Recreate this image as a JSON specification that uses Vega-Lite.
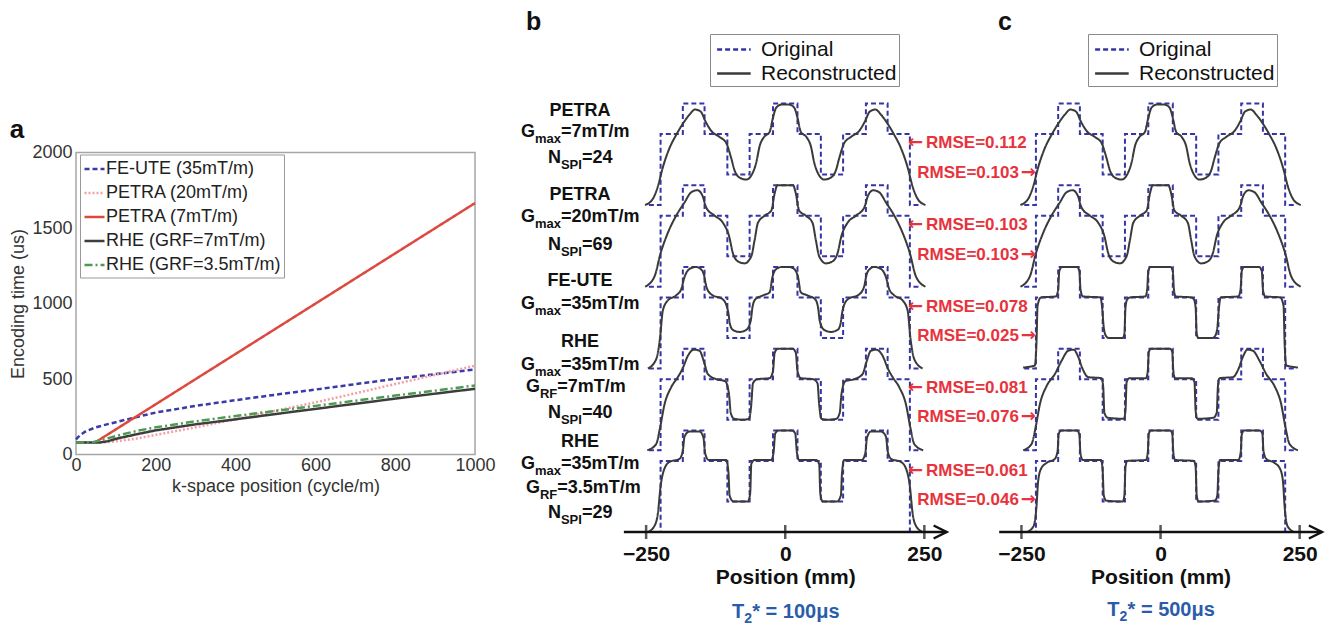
{
"$schema": "https://vega.github.io/schema/vega-lite/v6.json",
"background": "white",
"padding": {"left": 9, "top": 10, "right": 0, "bottom": 0},
"config": {"view": {"stroke": null}, "font": "Liberation Sans"},
"datasets": {
"enc": [
{"s":"FE-UTE (35mT/m)","k":0,"t":100},{"s":"FE-UTE (35mT/m)","k":10,"t":128},{"s":"FE-UTE (35mT/m)","k":25,"t":155},{"s":"FE-UTE (35mT/m)","k":50,"t":180},{"s":"FE-UTE (35mT/m)","k":75,"t":198},{"s":"FE-UTE (35mT/m)","k":100,"t":214},{"s":"FE-UTE (35mT/m)","k":150,"t":247},{"s":"FE-UTE (35mT/m)","k":200,"t":278},{"s":"FE-UTE (35mT/m)","k":300,"t":322},{"s":"FE-UTE (35mT/m)","k":400,"t":360},{"s":"FE-UTE (35mT/m)","k":500,"t":396},{"s":"FE-UTE (35mT/m)","k":600,"t":430},{"s":"FE-UTE (35mT/m)","k":700,"t":466},{"s":"FE-UTE (35mT/m)","k":800,"t":501},{"s":"FE-UTE (35mT/m)","k":900,"t":532},{"s":"FE-UTE (35mT/m)","k":1000,"t":563},
{"s":"PETRA (20mT/m)","k":0,"t":80},{"s":"PETRA (20mT/m)","k":50,"t":80},{"s":"PETRA (20mT/m)","k":80,"t":82},{"s":"PETRA (20mT/m)","k":100,"t":88},{"s":"PETRA (20mT/m)","k":150,"t":105},{"s":"PETRA (20mT/m)","k":200,"t":130},{"s":"PETRA (20mT/m)","k":300,"t":180},{"s":"PETRA (20mT/m)","k":400,"t":234},{"s":"PETRA (20mT/m)","k":500,"t":290},{"s":"PETRA (20mT/m)","k":600,"t":345},{"s":"PETRA (20mT/m)","k":700,"t":405},{"s":"PETRA (20mT/m)","k":800,"t":467},{"s":"PETRA (20mT/m)","k":900,"t":527},{"s":"PETRA (20mT/m)","k":1000,"t":588},
{"s":"PETRA (7mT/m)","k":48,"t":80},{"s":"PETRA (7mT/m)","k":1000,"t":1665},
{"s":"RHE (GRF=7mT/m)","k":0,"t":80},{"s":"RHE (GRF=7mT/m)","k":60,"t":80},{"s":"RHE (GRF=7mT/m)","k":80,"t":88},{"s":"RHE (GRF=7mT/m)","k":100,"t":104},{"s":"RHE (GRF=7mT/m)","k":150,"t":133},{"s":"RHE (GRF=7mT/m)","k":200,"t":160},{"s":"RHE (GRF=7mT/m)","k":300,"t":200},{"s":"RHE (GRF=7mT/m)","k":400,"t":233},{"s":"RHE (GRF=7mT/m)","k":500,"t":268},{"s":"RHE (GRF=7mT/m)","k":600,"t":302},{"s":"RHE (GRF=7mT/m)","k":700,"t":336},{"s":"RHE (GRF=7mT/m)","k":800,"t":370},{"s":"RHE (GRF=7mT/m)","k":900,"t":403},{"s":"RHE (GRF=7mT/m)","k":1000,"t":435},
{"s":"RHE (GRF=3.5mT/m)","k":0,"t":80},{"s":"RHE (GRF=3.5mT/m)","k":40,"t":80},{"s":"RHE (GRF=3.5mT/m)","k":70,"t":100},{"s":"RHE (GRF=3.5mT/m)","k":100,"t":122},{"s":"RHE (GRF=3.5mT/m)","k":150,"t":155},{"s":"RHE (GRF=3.5mT/m)","k":200,"t":180},{"s":"RHE (GRF=3.5mT/m)","k":300,"t":220},{"s":"RHE (GRF=3.5mT/m)","k":400,"t":255},{"s":"RHE (GRF=3.5mT/m)","k":500,"t":289},{"s":"RHE (GRF=3.5mT/m)","k":600,"t":322},{"s":"RHE (GRF=3.5mT/m)","k":700,"t":356},{"s":"RHE (GRF=3.5mT/m)","k":800,"t":390},{"s":"RHE (GRF=3.5mT/m)","k":900,"t":423},{"s":"RHE (GRF=3.5mT/m)","k":1000,"t":457}
],
"orig": [{"x":-245,"v":0},{"x":-224,"v":0.7},{"x":-184,"v":1},{"x":-145,"v":0.7},{"x":-104,"v":0.3},{"x":-64,"v":0.7},{"x":-22,"v":1},{"x":22,"v":0.7},{"x":64,"v":0.3},{"x":104,"v":0.7},{"x":145,"v":1},{"x":184,"v":0.7},{"x":224,"v":0},{"x":245,"v":0}],
"r1": [{"x":-252,"v":0},{"x":-238,"v":0.06},{"x":-229,"v":0.18},{"x":-220,"v":0.37},{"x":-208,"v":0.56},{"x":-196,"v":0.69},{"x":-184,"v":0.8},{"x":-172,"v":0.89},{"x":-162,"v":0.94},{"x":-152,"v":0.92},{"x":-143,"v":0.82},{"x":-133,"v":0.73},{"x":-118,"v":0.67},{"x":-106,"v":0.61},{"x":-97,"v":0.46},{"x":-91,"v":0.34},{"x":-82,"v":0.27},{"x":-70,"v":0.25},{"x":-60,"v":0.3},{"x":-52,"v":0.42},{"x":-46,"v":0.58},{"x":-38,"v":0.67},{"x":-28,"v":0.72},{"x":-22,"v":0.86},{"x":-16,"v":0.96},{"x":-6,"v":0.99},{"x":6,"v":0.99},{"x":16,"v":0.96},{"x":22,"v":0.86},{"x":28,"v":0.72},{"x":38,"v":0.67},{"x":46,"v":0.58},{"x":52,"v":0.42},{"x":60,"v":0.3},{"x":70,"v":0.25},{"x":82,"v":0.27},{"x":91,"v":0.34},{"x":97,"v":0.46},{"x":106,"v":0.61},{"x":118,"v":0.67},{"x":133,"v":0.73},{"x":143,"v":0.82},{"x":152,"v":0.92},{"x":162,"v":0.94},{"x":172,"v":0.89},{"x":184,"v":0.8},{"x":196,"v":0.69},{"x":208,"v":0.56},{"x":220,"v":0.37},{"x":229,"v":0.18},{"x":238,"v":0.06},{"x":252,"v":0}],
"r2": [{"x":-252,"v":0},{"x":-235,"v":0.1},{"x":-224,"v":0.33},{"x":-211,"v":0.53},{"x":-196,"v":0.7},{"x":-181,"v":0.83},{"x":-169,"v":0.93},{"x":-158,"v":0.95},{"x":-149,"v":0.9},{"x":-142,"v":0.78},{"x":-127,"v":0.7},{"x":-112,"v":0.63},{"x":-101,"v":0.5},{"x":-94,"v":0.33},{"x":-85,"v":0.25},{"x":-73,"v":0.23},{"x":-61,"v":0.3},{"x":-55,"v":0.46},{"x":-49,"v":0.63},{"x":-37,"v":0.7},{"x":-25,"v":0.75},{"x":-19,"v":0.92},{"x":-14,"v":1},{"x":14,"v":1},{"x":19,"v":0.92},{"x":25,"v":0.75},{"x":37,"v":0.7},{"x":49,"v":0.63},{"x":55,"v":0.46},{"x":61,"v":0.3},{"x":73,"v":0.23},{"x":85,"v":0.25},{"x":94,"v":0.33},{"x":101,"v":0.5},{"x":112,"v":0.63},{"x":127,"v":0.7},{"x":142,"v":0.78},{"x":149,"v":0.9},{"x":158,"v":0.95},{"x":169,"v":0.93},{"x":181,"v":0.83},{"x":196,"v":0.7},{"x":211,"v":0.53},{"x":224,"v":0.33},{"x":235,"v":0.1},{"x":252,"v":0}],
"r3b": [{"x":-247,"v":0},{"x":-232,"v":0.09},{"x":-225,"v":0.3},{"x":-220,"v":0.57},{"x":-211,"v":0.67},{"x":-196,"v":0.72},{"x":-187,"v":0.78},{"x":-181,"v":0.9},{"x":-172,"v":0.98},{"x":-160,"v":1},{"x":-152,"v":0.98},{"x":-146,"v":0.92},{"x":-142,"v":0.81},{"x":-133,"v":0.73},{"x":-112,"v":0.68},{"x":-103,"v":0.57},{"x":-99,"v":0.43},{"x":-94,"v":0.38},{"x":-82,"v":0.36},{"x":-70,"v":0.38},{"x":-62,"v":0.47},{"x":-59,"v":0.6},{"x":-54,"v":0.68},{"x":-40,"v":0.72},{"x":-28,"v":0.75},{"x":-23,"v":0.9},{"x":-16,"v":0.98},{"x":-6,"v":1},{"x":6,"v":1},{"x":16,"v":0.98},{"x":23,"v":0.9},{"x":28,"v":0.75},{"x":40,"v":0.72},{"x":54,"v":0.68},{"x":59,"v":0.6},{"x":62,"v":0.47},{"x":70,"v":0.38},{"x":82,"v":0.36},{"x":94,"v":0.38},{"x":99,"v":0.43},{"x":103,"v":0.57},{"x":112,"v":0.68},{"x":133,"v":0.73},{"x":142,"v":0.81},{"x":146,"v":0.92},{"x":152,"v":0.98},{"x":160,"v":1},{"x":172,"v":0.98},{"x":181,"v":0.9},{"x":187,"v":0.78},{"x":196,"v":0.72},{"x":211,"v":0.67},{"x":220,"v":0.57},{"x":225,"v":0.3},{"x":232,"v":0.09},{"x":247,"v":0}],
"r4b": [{"x":-248,"v":0},{"x":-232,"v":0.06},{"x":-225,"v":0.22},{"x":-217,"v":0.45},{"x":-205,"v":0.62},{"x":-193,"v":0.72},{"x":-184,"v":0.81},{"x":-175,"v":0.93},{"x":-164,"v":0.99},{"x":-154,"v":0.98},{"x":-146,"v":0.87},{"x":-139,"v":0.75},{"x":-124,"v":0.7},{"x":-108,"v":0.68},{"x":-101,"v":0.55},{"x":-98,"v":0.37},{"x":-92,"v":0.31},{"x":-76,"v":0.3},{"x":-65,"v":0.31},{"x":-61,"v":0.45},{"x":-58,"v":0.66},{"x":-50,"v":0.7},{"x":-28,"v":0.71},{"x":-22,"v":0.78},{"x":-19,"v":0.96},{"x":-13,"v":1},{"x":13,"v":1},{"x":19,"v":0.96},{"x":22,"v":0.78},{"x":28,"v":0.71},{"x":50,"v":0.7},{"x":58,"v":0.66},{"x":61,"v":0.45},{"x":65,"v":0.31},{"x":76,"v":0.3},{"x":92,"v":0.31},{"x":98,"v":0.37},{"x":101,"v":0.55},{"x":108,"v":0.68},{"x":124,"v":0.7},{"x":139,"v":0.75},{"x":146,"v":0.87},{"x":154,"v":0.98},{"x":164,"v":0.99},{"x":175,"v":0.93},{"x":184,"v":0.81},{"x":193,"v":0.72},{"x":205,"v":0.62},{"x":217,"v":0.45},{"x":225,"v":0.22},{"x":232,"v":0.06},{"x":248,"v":0}],
"r5b": [{"x":-247,"v":0},{"x":-235,"v":0.06},{"x":-229,"v":0.18},{"x":-224,"v":0.45},{"x":-218,"v":0.61},{"x":-208,"v":0.69},{"x":-190,"v":0.72},{"x":-184,"v":0.8},{"x":-181,"v":0.94},{"x":-172,"v":0.99},{"x":-154,"v":0.99},{"x":-147,"v":0.93},{"x":-144,"v":0.78},{"x":-138,"v":0.71},{"x":-106,"v":0.71},{"x":-102,"v":0.58},{"x":-100,"v":0.36},{"x":-93,"v":0.3},{"x":-67,"v":0.3},{"x":-63,"v":0.38},{"x":-61,"v":0.67},{"x":-55,"v":0.71},{"x":-25,"v":0.71},{"x":-21,"v":0.78},{"x":-18,"v":0.97},{"x":-12,"v":1},{"x":12,"v":1},{"x":18,"v":0.97},{"x":21,"v":0.78},{"x":25,"v":0.71},{"x":55,"v":0.71},{"x":61,"v":0.67},{"x":63,"v":0.38},{"x":67,"v":0.3},{"x":93,"v":0.3},{"x":100,"v":0.36},{"x":102,"v":0.58},{"x":106,"v":0.71},{"x":138,"v":0.71},{"x":144,"v":0.78},{"x":147,"v":0.93},{"x":154,"v":0.99},{"x":172,"v":0.99},{"x":181,"v":0.94},{"x":184,"v":0.8},{"x":190,"v":0.72},{"x":208,"v":0.69},{"x":218,"v":0.61},{"x":224,"v":0.45},{"x":229,"v":0.18},{"x":235,"v":0.06},{"x":247,"v":0}],
"r3c": [{"x":-247,"v":0.01},{"x":-226,"v":0.03},{"x":-223,"v":0.25},{"x":-221,"v":0.62},{"x":-215,"v":0.7},{"x":-188,"v":0.71},{"x":-184,"v":0.78},{"x":-182,"v":0.96},{"x":-177,"v":1},{"x":-150,"v":1},{"x":-146,"v":0.96},{"x":-144,"v":0.79},{"x":-140,"v":0.71},{"x":-108,"v":0.7},{"x":-105,"v":0.6},{"x":-102,"v":0.4},{"x":-98,"v":0.32},{"x":-93,"v":0.3},{"x":-68,"v":0.3},{"x":-65,"v":0.34},{"x":-63,"v":0.6},{"x":-60,"v":0.68},{"x":-55,"v":0.7},{"x":-27,"v":0.71},{"x":-24,"v":0.78},{"x":-22,"v":0.96},{"x":-18,"v":1},{"x":18,"v":1},{"x":22,"v":0.96},{"x":24,"v":0.78},{"x":27,"v":0.71},{"x":55,"v":0.7},{"x":60,"v":0.68},{"x":63,"v":0.6},{"x":65,"v":0.34},{"x":68,"v":0.3},{"x":93,"v":0.3},{"x":98,"v":0.32},{"x":102,"v":0.4},{"x":105,"v":0.6},{"x":108,"v":0.7},{"x":140,"v":0.71},{"x":144,"v":0.79},{"x":146,"v":0.96},{"x":150,"v":1},{"x":177,"v":1},{"x":182,"v":0.96},{"x":184,"v":0.78},{"x":188,"v":0.71},{"x":215,"v":0.7},{"x":221,"v":0.62},{"x":223,"v":0.25},{"x":226,"v":0.03},{"x":247,"v":0.01}],
"r4c": [{"x":-247,"v":0},{"x":-232,"v":0.06},{"x":-224,"v":0.24},{"x":-217,"v":0.45},{"x":-205,"v":0.63},{"x":-190,"v":0.75},{"x":-178,"v":0.88},{"x":-166,"v":0.98},{"x":-156,"v":0.99},{"x":-148,"v":0.92},{"x":-140,"v":0.8},{"x":-130,"v":0.72},{"x":-106,"v":0.71},{"x":-103,"v":0.62},{"x":-101,"v":0.37},{"x":-95,"v":0.32},{"x":-66,"v":0.31},{"x":-63,"v":0.39},{"x":-61,"v":0.67},{"x":-56,"v":0.71},{"x":-26,"v":0.71},{"x":-23,"v":0.78},{"x":-21,"v":0.97},{"x":-17,"v":1},{"x":17,"v":1},{"x":21,"v":0.97},{"x":23,"v":0.78},{"x":26,"v":0.71},{"x":56,"v":0.71},{"x":61,"v":0.67},{"x":63,"v":0.39},{"x":66,"v":0.31},{"x":95,"v":0.32},{"x":101,"v":0.37},{"x":103,"v":0.62},{"x":106,"v":0.71},{"x":130,"v":0.72},{"x":140,"v":0.8},{"x":148,"v":0.92},{"x":156,"v":0.99},{"x":166,"v":0.98},{"x":178,"v":0.88},{"x":190,"v":0.75},{"x":205,"v":0.63},{"x":217,"v":0.45},{"x":224,"v":0.24},{"x":232,"v":0.06},{"x":247,"v":0}],
"r5c": [{"x":-240,"v":0},{"x":-228,"v":0.06},{"x":-223,"v":0.25},{"x":-220,"v":0.5},{"x":-215,"v":0.62},{"x":-205,"v":0.68},{"x":-190,"v":0.72},{"x":-185,"v":0.8},{"x":-183,"v":0.97},{"x":-178,"v":1},{"x":-150,"v":1},{"x":-146,"v":0.96},{"x":-144,"v":0.78},{"x":-140,"v":0.71},{"x":-107,"v":0.71},{"x":-104,"v":0.6},{"x":-102,"v":0.36},{"x":-98,"v":0.31},{"x":-68,"v":0.3},{"x":-65,"v":0.36},{"x":-63,"v":0.64},{"x":-60,"v":0.7},{"x":-26,"v":0.71},{"x":-23,"v":0.78},{"x":-21,"v":0.97},{"x":-17,"v":1},{"x":17,"v":1},{"x":21,"v":0.97},{"x":23,"v":0.78},{"x":26,"v":0.71},{"x":60,"v":0.7},{"x":63,"v":0.64},{"x":65,"v":0.36},{"x":68,"v":0.3},{"x":98,"v":0.31},{"x":102,"v":0.36},{"x":104,"v":0.6},{"x":107,"v":0.71},{"x":140,"v":0.71},{"x":144,"v":0.78},{"x":146,"v":0.96},{"x":150,"v":1},{"x":178,"v":1},{"x":183,"v":0.97},{"x":185,"v":0.8},{"x":190,"v":0.72},{"x":205,"v":0.68},{"x":215,"v":0.62},{"x":220,"v":0.5},{"x":223,"v":0.25},{"x":228,"v":0.06},{"x":240,"v":0}],
"labB": [
{"x":-369,"v":4.15,"k":"p","t":"PETRA"},{"x":-369,"v":3.934,"k":"max","pre":"G","sub":"max","post":"=7mT/m"},{"x":-369,"v":3.683,"k":"spi","pre":"N","sub":"SPI","post":"=24"},
{"x":-369,"v":3.318,"k":"p","t":"PETRA"},{"x":-369,"v":3.097,"k":"max","pre":"G","sub":"max","post":"=20mT/m"},{"x":-369,"v":2.826,"k":"spi","pre":"N","sub":"SPI","post":"=69"},
{"x":-369,"v":2.471,"k":"p","t":"FE-UTE"},{"x":-369,"v":2.245,"k":"max","pre":"G","sub":"max","post":"=35mT/m"},
{"x":-369,"v":1.871,"k":"p","t":"RHE"},{"x":-369,"v":1.649,"k":"max","pre":"G","sub":"max","post":"=35mT/m"},{"x":-369,"v":1.423,"k":"rf","pre":"G","sub":"RF","post":"=7mT/m"},{"x":-369,"v":1.172,"k":"spi","pre":"N","sub":"SPI","post":"=40"},
{"x":-369,"v":0.891,"k":"p","t":"RHE"},{"x":-369,"v":0.665,"k":"max","pre":"G","sub":"max","post":"=35mT/m"},{"x":-369,"v":0.438,"k":"rf","pre":"G","sub":"RF","post":"=3.5mT/m"},{"x":-369,"v":0.187,"k":"spi","pre":"N","sub":"SPI","post":"=29"}
],
"rmseB": [{"x":220.7,"v":3.83,"t":"RMSE=0.112","a":"←"},{"x":220.7,"v":3.022,"t":"RMSE=0.103","a":"←"},{"x":220.7,"v":2.215,"t":"RMSE=0.078","a":"←"},{"x":220.7,"v":1.418,"t":"RMSE=0.081","a":"←"},{"x":220.7,"v":0.596,"t":"RMSE=0.061","a":"←"}],
"rmseC": [{"x":-224,"v":3.535,"t":"RMSE=0.103","a":"→"},{"x":-224,"v":2.727,"t":"RMSE=0.103","a":"→"},{"x":-224,"v":1.93,"t":"RMSE=0.025","a":"→"},{"x":-224,"v":1.132,"t":"RMSE=0.076","a":"→"},{"x":-224,"v":0.315,"t":"RMSE=0.046","a":"→"}],
"t2B": [{"x":0,"v":-0.79,"pre":"T","sub":"2","post":"* = 100μs"}],
"t2C": [{"x":0,"v":-0.77,"pre":"T","sub":"2","post":"* = 500μs"}],
"axisLine": [{"x":-290,"x2":290,"v":0}],
"axisTicks": [{"x":-250,"v":0},{"x":0,"v":0},{"x":250,"v":0}],
"axisArrow": [{"x":290,"v":0}]
},
"spacing": 52.6,
"bounds": "flush",
"center": true,
"resolve": {"scale": {"color": "independent", "strokeDash": "independent"}},
"hconcat": [
{
"width": 399, "height": 302,
"view": {"stroke": "#a6a6a6", "strokeWidth": 1.5},
"layer": [
{"data": {"name": "enc"}, "mark": {"type": "line", "strokeWidth": 2.5},
 "encoding": {
  "x": {"field": "k", "type": "quantitative", "scale": {"domain": [0, 1000], "nice": false},
        "axis": {"values": [0,200,400,600,800,1000], "format": "d", "title": "k-space position (cycle/m)", "grid": false, "ticks": false, "domain": false, "labelFontSize": 18, "labelColor": "#333", "labelPadding": 2, "labelFlush": false, "titleFontSize": 18, "titleFontWeight": "normal", "titleColor": "#333", "titlePadding": 3}},
  "y": {"field": "t", "type": "quantitative", "scale": {"domain": [0, 2000], "nice": false},
        "axis": {"values": [0,500,1000,1500,2000], "format": "d", "title": "Encoding time (us)", "grid": false, "ticks": false, "domain": false, "labelFontSize": 18, "labelColor": "#333", "labelPadding": 4, "labelFlush": false, "titleFontSize": 18, "titleFontWeight": "normal", "titleColor": "#333", "titlePadding": 4}},
  "color": {"field": "s", "type": "nominal",
    "scale": {"domain": ["FE-UTE (35mT/m)","PETRA (20mT/m)","PETRA (7mT/m)","RHE (GRF=7mT/m)","RHE (GRF=3.5mT/m)"], "range": ["#3a3aa8","#f2a0a6","#dc4a3f","#3d3d3d","#4f9a52"]},
    "legend": {"orient": "none", "legendX": 4, "legendY": 2, "title": null, "symbolType": "stroke", "symbolSize": 400, "symbolStrokeWidth": 2.5, "labelFontSize": 18, "labelColor": "#222", "labelOffset": 0, "labelLimit": 300, "fillColor": "white", "strokeColor": "#999", "padding": 3, "rowPadding": 3}},
  "strokeDash": {"field": "s", "type": "nominal",
    "scale": {"domain": ["FE-UTE (35mT/m)","PETRA (20mT/m)","PETRA (7mT/m)","RHE (GRF=7mT/m)","RHE (GRF=3.5mT/m)"], "range": [[5,3],[2,2],[1,0],[1,0],[8,3,2,3]]},
    "legend": {"orient": "none", "legendX": 4, "legendY": 2, "title": null, "symbolType": "stroke", "symbolSize": 400, "symbolStrokeWidth": 2.5, "labelFontSize": 18, "labelColor": "#222", "labelOffset": 0, "labelLimit": 300, "fillColor": "white", "strokeColor": "#999", "padding": 3, "rowPadding": 3}}
 }},
{"data": {"values": [{"k": -166, "t": 2099, "lab": "a"}]}, "mark": {"type": "text", "fontSize": 26, "fontWeight": "bold", "color": "#111", "align": "left", "baseline": "alphabetic"},
 "encoding": {"x": {"field": "k", "type": "quantitative"}, "y": {"field": "t", "type": "quantitative"}, "text": {"field": "lab"}}}
]
},
{
"width": 419, "height": 457,
"encoding": {"x": {"field": "x", "type": "quantitative", "scale": {"domain": [-463, 290], "nice": false, "zero": false},
  "axis": {"values": [-250, 0, 250], "labelExpr": "datum.value < 0 ? '−' + abs(datum.value) : datum.label", "grid": false, "ticks": false, "domain": false, "labelFontSize": 21, "labelFontWeight": "bold", "labelColor": "#111", "labelPadding": 11, "labelFlush": false, "title": "Position (mm)", "titleFontSize": 21, "titleFontWeight": "bold", "titleColor": "#111", "titlePadding": 2, "titleX": 257.6}}},
"resolve": {"scale": {"y": "independent"}},
"layer": [
{"encoding": {"y": {"field": "v", "type": "quantitative", "scale": {"domain": [-3.22, 1.28], "nice": false, "zero": false}, "axis": null}},
 "layer": [
  {"data": {"name": "orig"}, "mark": {"type": "line", "interpolate": "step-after", "strokeWidth": 2},
   "encoding": {"color": {"datum": "Original", "type": "nominal", "scale": {"domain": ["Original", "Reconstructed"], "range": ["#3535a8", "#3a3a3a"]},
      "legend": {"orient": "none", "legendX": 182.4, "legendY": -41, "title": null, "symbolType": "M-0.7,0L2.1,0", "symbolSize": 576, "symbolStrokeWidth": 2.5, "labelFontSize": 21, "labelColor": "#111", "labelOffset": 22, "labelLimit": 300, "fillColor": "white", "strokeColor": "#8a8a8a", "padding": 2, "rowPadding": -1}},
    "strokeDash": {"datum": "Original", "type": "nominal", "scale": {"domain": ["Original", "Reconstructed"], "range": [[5,3],[1,0]]},
      "legend": {"orient": "none", "legendX": 182.4, "legendY": -41, "title": null, "symbolType": "M-0.7,0L2.1,0", "symbolSize": 576, "symbolStrokeWidth": 2.5, "labelFontSize": 21, "labelColor": "#111", "labelOffset": 22, "labelLimit": 300, "fillColor": "white", "strokeColor": "#8a8a8a", "padding": 2, "rowPadding": -1}}}},
  {"data": {"name": "r1"}, "mark": {"type": "line", "interpolate": "monotone", "strokeWidth": 2},
   "encoding": {"color": {"datum": "Reconstructed"}, "strokeDash": {"datum": "Reconstructed"}}}
 ]},
{"encoding": {"y": {"field": "v", "type": "quantitative", "scale": {"domain": [-2.415, 2.085], "nice": false, "zero": false}, "axis": null}},
 "layer": [
  {"data": {"name": "orig"}, "mark": {"type": "line", "interpolate": "step-after", "strokeWidth": 2}, "encoding": {"color": {"datum": "Original"}, "strokeDash": {"datum": "Original"}}},
  {"data": {"name": "r2"}, "mark": {"type": "line", "interpolate": "monotone", "strokeWidth": 2}, "encoding": {"color": {"datum": "Reconstructed"}, "strokeDash": {"datum": "Reconstructed"}}}
 ]},
{"encoding": {"y": {"field": "v", "type": "quantitative", "scale": {"domain": [-1.61, 2.89], "nice": false, "zero": false}, "axis": null}},
 "layer": [
  {"data": {"name": "orig"}, "mark": {"type": "line", "interpolate": "step-after", "strokeWidth": 2}, "encoding": {"color": {"datum": "Original"}, "strokeDash": {"datum": "Original"}}},
  {"data": {"name": "r3b"}, "mark": {"type": "line", "interpolate": "monotone", "strokeWidth": 2}, "encoding": {"color": {"datum": "Reconstructed"}, "strokeDash": {"datum": "Reconstructed"}}}
 ]},
{"encoding": {"y": {"field": "v", "type": "quantitative", "scale": {"domain": [-0.805, 3.695], "nice": false, "zero": false}, "axis": null}},
 "layer": [
  {"data": {"name": "orig"}, "mark": {"type": "line", "interpolate": "step-after", "strokeWidth": 2}, "encoding": {"color": {"datum": "Original"}, "strokeDash": {"datum": "Original"}}},
  {"data": {"name": "r4b"}, "mark": {"type": "line", "interpolate": "monotone", "strokeWidth": 2}, "encoding": {"color": {"datum": "Reconstructed"}, "strokeDash": {"datum": "Reconstructed"}}}
 ]},
{"encoding": {"y": {"field": "v", "type": "quantitative", "scale": {"domain": [0, 4.5], "nice": false, "zero": false}, "axis": null}},
 "layer": [
  {"data": {"name": "orig"}, "mark": {"type": "line", "interpolate": "step-after", "strokeWidth": 2}, "encoding": {"color": {"datum": "Original"}, "strokeDash": {"datum": "Original"}}},
  {"data": {"name": "r5b"}, "mark": {"type": "line", "interpolate": "monotone", "strokeWidth": 2}, "encoding": {"color": {"datum": "Reconstructed"}, "strokeDash": {"datum": "Reconstructed"}}}
 ]},
{"encoding": {"y": {"field": "v", "type": "quantitative", "scale": {"domain": [0, 4.5], "nice": false, "zero": false}, "axis": null}},
 "layer": [
  {"data": {"name": "axisLine"}, "mark": {"type": "rule", "color": "#111", "strokeWidth": 2.5}, "encoding": {"x2": {"field": "x2"}}},
  {"data": {"name": "axisTicks"}, "mark": {"type": "tick", "orient": "vertical", "color": "#111", "thickness": 2.5, "size": 14}},
  {"data": {"name": "axisArrow"}, "mark": {"type": "point", "shape": "M-1,-0.5L0,0L-1,0.5", "filled": false, "stroke": "#111", "strokeWidth": 2.5, "size": 676, "opacity": 1}},
  {"data": {"name": "labB"}, "transform": [{"filter": "datum.k === 'p'"}], "mark": {"type": "text", "fontSize": 18, "fontWeight": "bold", "color": "#111", "align": "center", "baseline": "middle"}, "encoding": {"text": {"field": "t"}}},
  {"data": {"name": "labB"}, "transform": [{"filter": "datum.k === 'max'"}], "mark": {"type": "text", "fontSize": 18, "fontWeight": "bold", "color": "#111", "align": "right", "baseline": "middle", "dx": -45}, "encoding": {"text": {"field": "pre"}}},
  {"data": {"name": "labB"}, "transform": [{"filter": "datum.k === 'max'"}], "mark": {"type": "text", "fontSize": 13, "fontWeight": "bold", "color": "#111", "align": "left", "baseline": "middle", "dx": -45, "dy": 7}, "encoding": {"text": {"field": "sub"}}},
  {"data": {"name": "labB"}, "transform": [{"filter": "datum.k === 'max'"}], "mark": {"type": "text", "fontSize": 18, "fontWeight": "bold", "color": "#111", "align": "left", "baseline": "middle", "dx": -19}, "encoding": {"text": {"field": "post"}}},
  {"data": {"name": "labB"}, "transform": [{"filter": "datum.k === 'spi'"}], "mark": {"type": "text", "fontSize": 18, "fontWeight": "bold", "color": "#111", "align": "right", "baseline": "middle", "dx": -19}, "encoding": {"text": {"field": "pre"}}},
  {"data": {"name": "labB"}, "transform": [{"filter": "datum.k === 'spi'"}], "mark": {"type": "text", "fontSize": 13, "fontWeight": "bold", "color": "#111", "align": "left", "baseline": "middle", "dx": -19, "dy": 7}, "encoding": {"text": {"field": "sub"}}},
  {"data": {"name": "labB"}, "transform": [{"filter": "datum.k === 'spi'"}], "mark": {"type": "text", "fontSize": 18, "fontWeight": "bold", "color": "#111", "align": "left", "baseline": "middle", "dx": 2}, "encoding": {"text": {"field": "post"}}},
  {"data": {"name": "labB"}, "transform": [{"filter": "datum.k === 'rf'"}], "mark": {"type": "text", "fontSize": 18, "fontWeight": "bold", "color": "#111", "align": "right", "baseline": "middle", "dx": -40}, "encoding": {"text": {"field": "pre"}}},
  {"data": {"name": "labB"}, "transform": [{"filter": "datum.k === 'rf'"}], "mark": {"type": "text", "fontSize": 13, "fontWeight": "bold", "color": "#111", "align": "left", "baseline": "middle", "dx": -40, "dy": 7}, "encoding": {"text": {"field": "sub"}}},
  {"data": {"name": "labB"}, "transform": [{"filter": "datum.k === 'rf'"}], "mark": {"type": "text", "fontSize": 18, "fontWeight": "bold", "color": "#111", "align": "left", "baseline": "middle", "dx": -22.7}, "encoding": {"text": {"field": "post"}}},
  {"data": {"name": "rmseB"}, "mark": {"type": "text", "font": "DejaVu Sans", "fontSize": 18, "fontWeight": "bold", "color": "#e8323c", "align": "left", "baseline": "middle"}, "encoding": {"text": {"field": "a"}}},
  {"data": {"name": "rmseB"}, "mark": {"type": "text", "fontSize": 17, "fontWeight": "bold", "color": "#e8323c", "align": "left", "baseline": "middle", "dx": 18}, "encoding": {"text": {"field": "t"}}},
  {"data": {"name": "t2B"}, "mark": {"type": "text", "fontSize": 20, "fontWeight": "bold", "color": "#2a5caa", "align": "right", "baseline": "middle", "dx": -41}, "encoding": {"text": {"field": "pre"}}},
  {"data": {"name": "t2B"}, "mark": {"type": "text", "fontSize": 14, "fontWeight": "bold", "color": "#2a5caa", "align": "left", "baseline": "middle", "dx": -41, "dy": 7}, "encoding": {"text": {"field": "sub"}}},
  {"data": {"name": "t2B"}, "mark": {"type": "text", "fontSize": 20, "fontWeight": "bold", "color": "#2a5caa", "align": "left", "baseline": "middle", "dx": -33}, "encoding": {"text": {"field": "post"}}},
  {"data": {"values": [{"x": -466, "v": 4.943, "t": "b"}]}, "mark": {"type": "text", "fontSize": 25, "fontWeight": "bold", "color": "#111", "align": "left", "baseline": "alphabetic"}, "encoding": {"text": {"field": "t"}}}
 ]}
]
},
{
"width": 322.7, "height": 457,
"encoding": {"x": {"field": "x", "type": "quantitative", "scale": {"domain": [-290, 290], "nice": false, "zero": false},
  "axis": {"values": [-250, 0, 250], "labelExpr": "datum.value < 0 ? '−' + abs(datum.value) : datum.label", "grid": false, "ticks": false, "domain": false, "labelFontSize": 21, "labelFontWeight": "bold", "labelColor": "#111", "labelPadding": 11, "labelFlush": false, "title": "Position (mm)", "titleFontSize": 21, "titleFontWeight": "bold", "titleColor": "#111", "titlePadding": 2}}},
"resolve": {"scale": {"y": "independent"}},
"layer": [
{"encoding": {"y": {"field": "v", "type": "quantitative", "scale": {"domain": [-3.22, 1.28], "nice": false, "zero": false}, "axis": null}},
 "layer": [
  {"data": {"name": "orig"}, "mark": {"type": "line", "interpolate": "step-after", "strokeWidth": 2},
   "encoding": {"color": {"datum": "Original", "type": "nominal", "scale": {"domain": ["Original", "Reconstructed"], "range": ["#3535a8", "#3a3a3a"]},
      "legend": {"orient": "none", "legendX": 88.8, "legendY": -41, "title": null, "symbolType": "M-0.7,0L2.1,0", "symbolSize": 576, "symbolStrokeWidth": 2.5, "labelFontSize": 21, "labelColor": "#111", "labelOffset": 22, "labelLimit": 300, "fillColor": "white", "strokeColor": "#8a8a8a", "padding": 2, "rowPadding": -1}},
    "strokeDash": {"datum": "Original", "type": "nominal", "scale": {"domain": ["Original", "Reconstructed"], "range": [[5,3],[1,0]]},
      "legend": {"orient": "none", "legendX": 88.8, "legendY": -41, "title": null, "symbolType": "M-0.7,0L2.1,0", "symbolSize": 576, "symbolStrokeWidth": 2.5, "labelFontSize": 21, "labelColor": "#111", "labelOffset": 22, "labelLimit": 300, "fillColor": "white", "strokeColor": "#8a8a8a", "padding": 2, "rowPadding": -1}}}},
  {"data": {"name": "r1"}, "mark": {"type": "line", "interpolate": "monotone", "strokeWidth": 2},
   "encoding": {"color": {"datum": "Reconstructed"}, "strokeDash": {"datum": "Reconstructed"}}}
 ]},
{"encoding": {"y": {"field": "v", "type": "quantitative", "scale": {"domain": [-2.415, 2.085], "nice": false, "zero": false}, "axis": null}},
 "layer": [
  {"data": {"name": "orig"}, "mark": {"type": "line", "interpolate": "step-after", "strokeWidth": 2}, "encoding": {"color": {"datum": "Original"}, "strokeDash": {"datum": "Original"}}},
  {"data": {"name": "r2"}, "mark": {"type": "line", "interpolate": "monotone", "strokeWidth": 2}, "encoding": {"color": {"datum": "Reconstructed"}, "strokeDash": {"datum": "Reconstructed"}}}
 ]},
{"encoding": {"y": {"field": "v", "type": "quantitative", "scale": {"domain": [-1.61, 2.89], "nice": false, "zero": false}, "axis": null}},
 "layer": [
  {"data": {"name": "orig"}, "mark": {"type": "line", "interpolate": "step-after", "strokeWidth": 2}, "encoding": {"color": {"datum": "Original"}, "strokeDash": {"datum": "Original"}}},
  {"data": {"name": "r3c"}, "mark": {"type": "line", "interpolate": "monotone", "strokeWidth": 2}, "encoding": {"color": {"datum": "Reconstructed"}, "strokeDash": {"datum": "Reconstructed"}}}
 ]},
{"encoding": {"y": {"field": "v", "type": "quantitative", "scale": {"domain": [-0.805, 3.695], "nice": false, "zero": false}, "axis": null}},
 "layer": [
  {"data": {"name": "orig"}, "mark": {"type": "line", "interpolate": "step-after", "strokeWidth": 2}, "encoding": {"color": {"datum": "Original"}, "strokeDash": {"datum": "Original"}}},
  {"data": {"name": "r4c"}, "mark": {"type": "line", "interpolate": "monotone", "strokeWidth": 2}, "encoding": {"color": {"datum": "Reconstructed"}, "strokeDash": {"datum": "Reconstructed"}}}
 ]},
{"encoding": {"y": {"field": "v", "type": "quantitative", "scale": {"domain": [0, 4.5], "nice": false, "zero": false}, "axis": null}},
 "layer": [
  {"data": {"name": "orig"}, "mark": {"type": "line", "interpolate": "step-after", "strokeWidth": 2}, "encoding": {"color": {"datum": "Original"}, "strokeDash": {"datum": "Original"}}},
  {"data": {"name": "r5c"}, "mark": {"type": "line", "interpolate": "monotone", "strokeWidth": 2}, "encoding": {"color": {"datum": "Reconstructed"}, "strokeDash": {"datum": "Reconstructed"}}}
 ]},
{"encoding": {"y": {"field": "v", "type": "quantitative", "scale": {"domain": [0, 4.5], "nice": false, "zero": false}, "axis": null}},
 "layer": [
  {"data": {"name": "axisLine"}, "mark": {"type": "rule", "color": "#111", "strokeWidth": 2.5}, "encoding": {"x2": {"field": "x2"}}},
  {"data": {"name": "axisTicks"}, "mark": {"type": "tick", "orient": "vertical", "color": "#111", "thickness": 2.5, "size": 14}},
  {"data": {"name": "axisArrow"}, "mark": {"type": "point", "shape": "M-1,-0.5L0,0L-1,0.5", "filled": false, "stroke": "#111", "strokeWidth": 2.5, "size": 676, "opacity": 1}},
  {"data": {"name": "rmseC"}, "mark": {"type": "text", "font": "DejaVu Sans", "fontSize": 18, "fontWeight": "bold", "color": "#e8323c", "align": "right", "baseline": "middle"}, "encoding": {"text": {"field": "a"}}},
  {"data": {"name": "rmseC"}, "mark": {"type": "text", "fontSize": 17, "fontWeight": "bold", "color": "#e8323c", "align": "right", "baseline": "middle", "dx": -17}, "encoding": {"text": {"field": "t"}}},
  {"data": {"name": "t2C"}, "mark": {"type": "text", "fontSize": 20, "fontWeight": "bold", "color": "#2a5caa", "align": "right", "baseline": "middle", "dx": -41}, "encoding": {"text": {"field": "pre"}}},
  {"data": {"name": "t2C"}, "mark": {"type": "text", "fontSize": 14, "fontWeight": "bold", "color": "#2a5caa", "align": "left", "baseline": "middle", "dx": -41, "dy": 7}, "encoding": {"text": {"field": "sub"}}},
  {"data": {"name": "t2C"}, "mark": {"type": "text", "fontSize": 20, "fontWeight": "bold", "color": "#2a5caa", "align": "left", "baseline": "middle", "dx": -33}, "encoding": {"text": {"field": "post"}}},
  {"data": {"values": [{"x": -292.2, "v": 4.943, "t": "c"}]}, "mark": {"type": "text", "fontSize": 25, "fontWeight": "bold", "color": "#111", "align": "left", "baseline": "alphabetic"}, "encoding": {"text": {"field": "t"}}}
 ]}
]
}
]
}
